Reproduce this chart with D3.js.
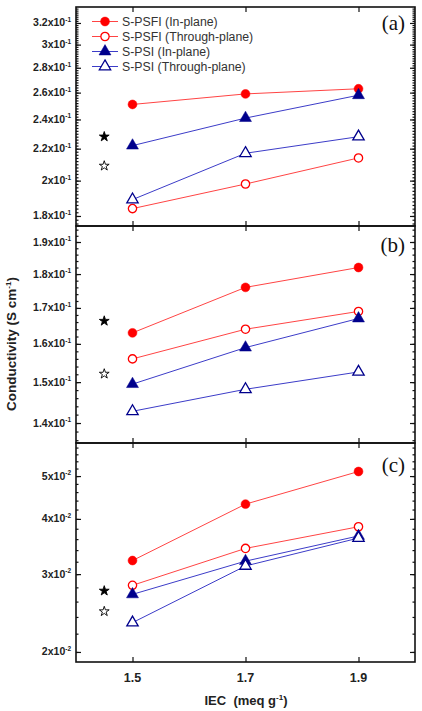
<!DOCTYPE html>
<html>
<head>
<meta charset="utf-8">
<script src="https://cdn.jsdelivr.net/npm/d3@7"></script>
<style>
  body { margin: 0; background: #fff; }
  text { font-family: "Liberation Sans", Arial, sans-serif; }
</style>
</head>
<body>
<div id="chart"></div>
<script>
var width = 422;
var height = 711;

// x values (IEC, meq/g)
var iec = [1.5, 1.7, 1.9];
var starIec = 1.45;
var seriesNames = ["S-PSFI (In-plane)", "S-PSFI (Through-plane)", "S-PSI (In-plane)", "S-PSI (Through-plane)"];

// panel (a)
var aPsfiIn = [0.251, 0.259, 0.263];
var aPsfiThrough = [0.184, 0.198, 0.214];
var aPsiIn = [0.222, 0.241, 0.258];
var aPsiThrough = [0.189, 0.217, 0.228];
var aStars = [0.228, 0.209];   // filled, open

// panel (b)
var bPsfiIn = [0.163, 0.176, 0.182];
var bPsfiThrough = [0.156, 0.164, 0.169];
var bPsiIn = [0.1495, 0.159, 0.167];
var bPsiThrough = [0.1428, 0.1482, 0.1526];
var bStars = [0.1663, 0.1521];

// panel (c)
var cPsfiIn = [0.0322, 0.0432, 0.0512];
var cPsfiThrough = [0.0283, 0.0343, 0.0384];
var cPsiIn = [0.0270, 0.0321, 0.0366];
var cPsiThrough = [0.0233, 0.0313, 0.0362];
var cStars = [0.0275, 0.0247];

// tick values / labels
var xTicks = [1.5, 1.7, 1.9];
var xTickLabels = ["1.5", "1.7", "1.9"];
var aTicks = [0.18, 0.20, 0.22, 0.24, 0.26, 0.28, 0.30, 0.32];
var aTickLabels = ["1.8", "2", "2.2", "2.4", "2.6", "2.8", "3", "3.2"];
var bTicks = [0.14, 0.15, 0.16, 0.17, 0.18, 0.19];
var bTickLabels = ["1.4", "1.5", "1.6", "1.7", "1.8", "1.9"];
var cTicks = [0.02, 0.03, 0.04, 0.05];
var cTickLabels = ["2", "3", "4", "5"];

var left = 76, right = 415;

var panels = [
  {label: "(a)", top: 7, bottom: 226, domain: [0.1747, 0.3356], ticks: aTicks, tickLabels: aTickLabels, exp: "-1",
   series: [aPsfiIn, aPsfiThrough, aPsiIn, aPsiThrough], stars: aStars, labelY: 30},
  {label: "(b)", top: 226, bottom: 443, domain: [0.13536, 0.1952], ticks: bTicks, tickLabels: bTickLabels, exp: "-1",
   series: [bPsfiIn, bPsfiThrough, bPsiIn, bPsiThrough], stars: bStars, labelY: 252},
  {label: "(c)", top: 443, bottom: 662, domain: [0.01898, 0.0594], ticks: cTicks, tickLabels: cTickLabels, exp: "-2",
   series: [cPsfiIn, cPsfiThrough, cPsiIn, cPsiThrough], stars: cStars, labelY: 472}
];

var styles = [
  {marker: "#ff0000", line: "#ff4444", symbol: d3.symbolCircle, size: 62, filled: true},
  {marker: "#ff0000", line: "#ff4444", symbol: d3.symbolCircle, size: 54, filled: false},
  {marker: "#00008c", line: "#3c3cc8", symbol: d3.symbolTriangle, size: 62, filled: true},
  {marker: "#00008c", line: "#3c3cc8", symbol: d3.symbolTriangle, size: 56, filled: false}
];

var svg = d3.select("#chart").append("svg")
  .attr("width", width)
  .attr("height", height);

var x = d3.scaleLinear().domain([1.4, 2.0]).range([left, right]);

//-----------------------------------------
// PANELS
panels.forEach(function(p, pi) {
  var y = d3.scaleLog().domain(p.domain).range([p.bottom, p.top]);
  var g = svg.append("g");

  var minor = d3.range(0.002, 0.4, 0.002)
    .filter(function(v) { return v > p.domain[0] && v < p.domain[1]; });

  // y axes, ticks pointing inward
  g.append("g").attr("transform", "translate(" + left + ",0)")
    .call(d3.axisLeft(y).tickValues(minor).tickSize(-2.5).tickSizeOuter(0).tickFormat(""));
  g.append("g").attr("transform", "translate(" + left + ",0)")
    .call(d3.axisLeft(y).tickValues(p.ticks).tickSize(-5).tickSizeOuter(0).tickFormat(""));
  g.append("g").attr("transform", "translate(" + right + ",0)")
    .call(d3.axisRight(y).tickValues(minor).tickSize(-2.5).tickSizeOuter(0).tickFormat(""));
  g.append("g").attr("transform", "translate(" + right + ",0)")
    .call(d3.axisRight(y).tickValues(p.ticks).tickSize(-5).tickSizeOuter(0).tickFormat(""));

  // x axes top / bottom, inward
  g.append("g").attr("transform", "translate(0," + p.bottom + ")")
    .call(d3.axisBottom(x).tickValues(xTicks).tickSize(-5).tickSizeOuter(0).tickFormat(""));
  g.append("g").attr("transform", "translate(0," + p.top + ")")
    .call(d3.axisTop(x).tickValues(xTicks).tickSize(-5).tickSizeOuter(0).tickFormat(""));

  g.selectAll(".tick line").attr("stroke", "#111").attr("stroke-width", 1.2);
  g.selectAll(".domain").remove();

  // y tick labels with superscript exponent
  var lbl = g.selectAll(".ylab").data(p.ticks).enter().append("text")
    .attr("class", "ylab")
    .attr("x", left - 5)
    .attr("y", function(d) { return y(d) + 3.5; })
    .attr("text-anchor", "end")
    .attr("font-size", 10.5)
    .attr("font-weight", "bold")
    .attr("fill", "#222");
  lbl.append("tspan").text(function(d, i) { return p.tickLabels[i] + "x10"; });
  lbl.append("tspan").attr("dy", -4.5).attr("font-size", 6.5).text(p.exp);

  // frame
  g.append("rect")
    .attr("x", left).attr("y", p.top)
    .attr("width", right - left).attr("height", p.bottom - p.top)
    .attr("fill", "none").attr("stroke", "#111").attr("stroke-width", 1.6);

  // panel label
  g.append("text")
    .attr("x", 405).attr("y", p.labelY)
    .attr("text-anchor", "end")
    .style("font-family", "'Liberation Serif', 'Times New Roman', serif")
    .attr("font-size", 21)
    .attr("fill", "#111")
    .text(p.label);

  // lines
  var line = d3.line().x(function(d, i) { return x(iec[i]); }).y(function(d) { return y(d); });
  p.series.forEach(function(vals, si) {
    g.append("path").datum(vals)
      .attr("d", line)
      .attr("fill", "none")
      .attr("stroke", styles[si].line)
      .attr("stroke-width", 1);
  });

  // markers
  p.series.forEach(function(vals, si) {
    var st = styles[si];
    g.selectAll(".m" + si).data(vals).enter().append("path")
      .attr("class", "m" + si)
      .attr("transform", function(d, i) { return "translate(" + x(iec[i]) + "," + y(d) + ")"; })
      .attr("d", d3.symbol().type(st.symbol).size(st.size))
      .attr("fill", st.filled ? st.marker : "#fff")
      .attr("stroke", st.marker)
      .attr("stroke-width", st.filled ? 0.5 : 1.3);
  });

  // reference stars
  g.selectAll(".star").data(p.stars).enter().append("path")
    .attr("class", "star")
    .attr("transform", function(d) { return "translate(" + x(starIec) + "," + y(d) + ")"; })
    .attr("d", d3.symbol().type(d3.symbolStar).size(30))
    .attr("fill", function(d, i) { return i === 0 ? "#000" : "#fff"; })
    .attr("stroke", "#000")
    .attr("stroke-width", 0.9);
});

//-----------------------------------------
// LEGEND (in panel a)
var legend = svg.selectAll(".legend").data(seriesNames).enter().append("g")
  .attr("class", "legend")
  .attr("transform", function(d, i) { return "translate(92," + (21.5 + i * 15) + ")"; });

legend.append("line")
  .attr("x1", 0).attr("x2", 26).attr("y1", 0).attr("y2", 0)
  .attr("stroke", function(d, i) { return styles[i].line; })
  .attr("stroke-width", 1);
legend.append("path")
  .attr("transform", "translate(13,0)")
  .attr("d", function(d, i) { return d3.symbol().type(styles[i].symbol).size(styles[i].size)(); })
  .attr("fill", function(d, i) { return styles[i].filled ? styles[i].marker : "#fff"; })
  .attr("stroke", function(d, i) { return styles[i].marker; })
  .attr("stroke-width", function(d, i) { return styles[i].filled ? 0.5 : 1.3; });
legend.append("text")
  .attr("x", 30).attr("y", 4.5)
  .attr("font-size", 12.3)
  .attr("fill", "#333")
  .text(function(d) { return d; });

//-----------------------------------------
// AXIS TITLES
svg.selectAll(".xlab").data(xTicks).enter().append("text")
  .attr("class", "xlab")
  .attr("x", function(d) { return x(d); })
  .attr("y", 682)
  .attr("text-anchor", "middle")
  .attr("font-size", 12.5)
  .attr("font-weight", "bold")
  .attr("fill", "#222")
  .text(function(d, i) { return xTickLabels[i]; });

var xt = svg.append("text")
  .attr("x", 246).attr("y", 705)
  .attr("text-anchor", "middle")
  .attr("font-size", 13)
  .attr("font-weight", "bold")
  .attr("fill", "#222")
  .attr("xml:space", "preserve");
xt.append("tspan").text("IEC  (meq g");
xt.append("tspan").attr("dy", -5).attr("font-size", 8).text("-1");
xt.append("tspan").attr("dy", 5).text(")");

var yt = svg.append("text")
  .attr("transform", "translate(16,344) rotate(-90)")
  .attr("text-anchor", "middle")
  .attr("font-size", 13.5)
  .attr("font-weight", "bold")
  .attr("fill", "#222");
yt.append("tspan").text("Conductivity (S cm");
yt.append("tspan").attr("dy", -5).attr("font-size", 8).text("-1");
yt.append("tspan").attr("dy", 5).text(")");
</script>
</body>
</html>
